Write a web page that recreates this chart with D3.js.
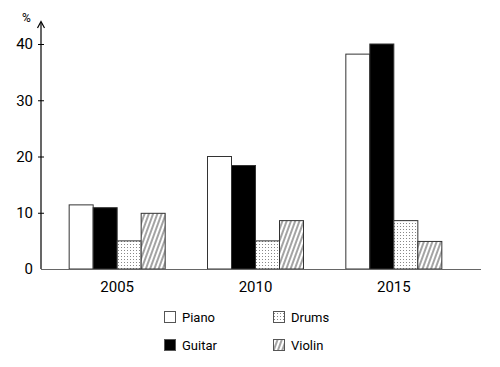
<!DOCTYPE html>
<html><head><meta charset="utf-8">
<script src="https://cdn.jsdelivr.net/npm/d3@7"></script>
<style>body{margin:0;background:#fff}svg{display:block;font-family:Roboto,sans-serif}</style>
</head><body><svg id="c" width="500" height="367"></svg>
<script>
const years = ["2005","2010","2015"];
const instruments = ["Piano","Guitar","Drums","Violin"];
const piano = [11.4, 20, 38.2];
const guitar = [10.9, 18.4, 40];
const drums = [5, 5, 8.6];
const violin = [9.9, 8.6, 4.9];
const yTicks = [0,10,20,30,40];
const seriesValues = {Piano: piano, Guitar: guitar, Drums: drums, Violin: violin};

const svg = d3.select("#c");
const defs = svg.append("defs");
const dots = defs.append("pattern").attr("id","dots").attr("patternUnits","userSpaceOnUse").attr("width",3).attr("height",3);
dots.append("rect").attr("width",3).attr("height",3).attr("fill","#fff");
dots.append("rect").attr("x",1).attr("y",1).attr("width",1).attr("height",1).attr("fill","#888");
const hatch = defs.append("pattern").attr("id","hatch").attr("patternUnits","userSpaceOnUse").attr("width",4).attr("height",4).attr("patternTransform","rotate(20)");
hatch.append("rect").attr("width",4).attr("height",4).attr("fill","#fff");
hatch.append("line").attr("x1",1).attr("y1",0).attr("x2",1).attr("y2",4).attr("stroke","#333").attr("stroke-width",0.9);
const fills = {Piano:"#fff", Guitar:"#000", Drums:"url(#dots)", Violin:"url(#hatch)"};

const x0 = d3.scaleBand().domain(years).range([48,463]).padding(0);
const x1 = d3.scaleBand().domain(instruments).range([x0.bandwidth()/2-48, x0.bandwidth()/2+48]);
const y = d3.scaleLinear().domain([0,40]).range([269,44]);

// bars
instruments.forEach(inst => {
  svg.append("g").selectAll("rect").data(years).join("rect")
    .attr("x", (d,i) => x0(d) + x1(inst))
    .attr("y", (d,i) => y(seriesValues[inst][i]))
    .attr("width", x1.bandwidth())
    .attr("height", (d,i) => y(0) - y(seriesValues[inst][i]))
    .attr("fill", fills[inst])
    .attr("stroke", "#333").attr("stroke-width", 1);
});

// y axis
const ya = svg.append("g").attr("transform","translate(41,0)")
  .call(d3.axisLeft(y).tickValues(yTicks).tickSize(4).tickPadding(4).tickFormat(d3.format("d")));
ya.select(".domain").remove();
ya.selectAll("text").attr("font-size",15).attr("font-family","Roboto,sans-serif").attr("fill","#000");
ya.selectAll(".tick line").attr("x1",3).attr("x2",-3).attr("stroke","#000");
ya.selectAll(".tick").filter(d => d === 0).select("line").remove();
svg.append("line").attr("x1",41).attr("x2",41).attr("y1",269).attr("y2",22).attr("stroke","#000").attr("stroke-width",1.2);
svg.append("path").attr("d","M37.5,28 L41,21.5 L44.5,28").attr("fill","none").attr("stroke","#000").attr("stroke-width",1.2);
svg.append("text").attr("x",22).attr("y",22).attr("font-size",12).text("%");

// x baseline
svg.append("line").attr("x1",41).attr("x2",481).attr("y1",269.5).attr("y2",269.5).attr("stroke","#666").attr("stroke-width",1.2);
const xa = svg.append("g").attr("transform","translate(0,270)")
  .call(d3.axisBottom(x0).tickSize(0).tickPadding(11));
xa.select(".domain").remove();
xa.selectAll("text").attr("font-size",15).attr("font-family","Roboto,sans-serif").attr("fill","#000");

// legend
const legendPos = {Piano:[164,311], Drums:[273,311], Guitar:[164,339], Violin:[273,339]};
instruments.forEach(inst => {
  const [lx, ly] = legendPos[inst];
  svg.append("rect").attr("x",lx+0.5).attr("y",ly+0.5).attr("width",11).attr("height",11)
    .attr("fill", fills[inst]).attr("stroke","#555").attr("stroke-width",1);
  svg.append("text").attr("x",lx+18).attr("y",ly+10.5).attr("font-size",13).text(inst);
});
</script></body></html>
